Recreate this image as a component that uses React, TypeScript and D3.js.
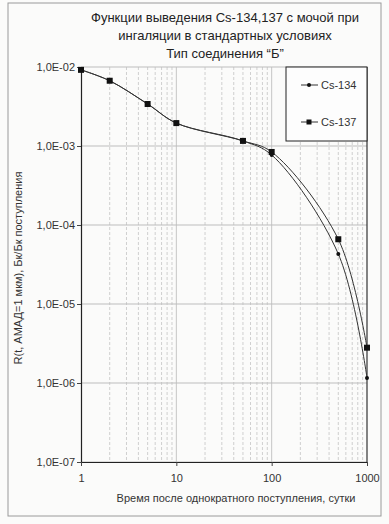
import React, { useEffect, useRef } from 'react';
import * as d3 from 'd3';

// Days after intake and excretion function values (Bq per Bq intake)
const days = [1, 2, 5, 10, 50, 100, 500, 1000];
const cs134 = [9.2e-3, 6.7e-3, 3.4e-3, 1.95e-3, 1.16e-3, 7.7e-4, 4.3e-5, 1.16e-6];
const cs137 = [9.2e-3, 6.7e-3, 3.4e-3, 1.95e-3, 1.16e-3, 8.4e-4, 6.6e-5, 2.8e-6];

const yTicks = [1e-7, 1e-6, 1e-5, 1e-4, 1e-3, 1e-2];
const xTicks = [1, 10, 100, 1000];

const titleLines = [
  'Функции выведения Cs-134,137 с мочой при',
  'ингаляции в стандартных условиях',
  'Тип соединения “Б”',
];
const seriesNames = ['Cs-134', 'Cs-137'];

const W = 389;
const H = 524;
const FONT = '"Liberation Sans", Arial, sans-serif';

const App: React.FC = () => {
  const svgRef = useRef<SVGSVGElement>(null);

  useEffect(() => {
    if (!svgRef.current) return;
    const svg = d3.select(svgRef.current);
    svg.selectAll('*').remove();

    const plot = { left: 81, right: 367, top: 67, bottom: 462 };

    const x = d3.scaleLog().domain([1, 1000]).range([plot.left, plot.right]);
    const y = d3.scaleLog().domain([1e-7, 1e-2]).range([plot.bottom, plot.top]);

    // page background + outer frame
    svg.append('rect').attr('width', W).attr('height', H).attr('fill', '#fbfbfa');
    svg.append('rect')
      .attr('x', 8).attr('y', 3).attr('width', 373).attr('height', 513)
      .attr('fill', 'none').attr('stroke', '#9a9a9a').attr('stroke-width', 1);

    // title
    svg.append('g')
      .attr('font-family', FONT).attr('font-size', 13).attr('fill', '#222')
      .attr('text-anchor', 'middle')
      .selectAll('text')
      .data(titleLines)
      .join('text')
      .attr('x', 225)
      .attr('y', (d, i) => 22 + i * 18)
      .text(d => d);

    // minor vertical grid
    const minor: number[] = [];
    [1, 10, 100].forEach(dec => {
      for (let k = 2; k <= 9; k++) minor.push(dec * k);
    });
    svg.append('g')
      .selectAll('line')
      .data(minor)
      .join('line')
      .attr('x1', d => x(d)).attr('x2', d => x(d))
      .attr('y1', plot.top).attr('y2', plot.bottom)
      .attr('stroke', '#c4c4c4').attr('stroke-width', 0.8)
      .attr('stroke-dasharray', '3,2');

    // major vertical grid
    svg.append('g')
      .selectAll('line')
      .data(xTicks.slice(1, 3))
      .join('line')
      .attr('x1', d => x(d)).attr('x2', d => x(d))
      .attr('y1', plot.top).attr('y2', plot.bottom)
      .attr('stroke', '#b8b8b8').attr('stroke-width', 0.8);

    // horizontal grid
    svg.append('g')
      .selectAll('line')
      .data(yTicks)
      .join('line')
      .attr('x1', plot.left).attr('x2', plot.right)
      .attr('y1', d => y(d)).attr('y2', d => y(d))
      .attr('stroke', '#bdbdbd').attr('stroke-width', 1);

    // right frame
    svg.append('line')
      .attr('x1', plot.right).attr('x2', plot.right)
      .attr('y1', plot.top).attr('y2', plot.bottom)
      .attr('stroke', '#333').attr('stroke-width', 1.2);

    // axes
    const fmt = (d: number) => {
      const e = Math.round(Math.log10(d));
      return `1,0E-${String(-e).padStart(2, '0')}`;
    };
    svg.append('g')
      .attr('transform', `translate(${plot.left},0)`)
      .call(d3.axisLeft(y).tickValues(yTicks).tickFormat(d => fmt(d as number)).tickSize(4).tickSizeOuter(0))
      .call(g => g.select('.domain').attr('stroke', '#222').attr('stroke-width', 1.2))
      .call(g => g.selectAll('.tick line').attr('stroke', '#444'))
      .call(g => g.selectAll('.tick text').attr('font-family', FONT).attr('font-size', 11).attr('fill', '#333').attr('x', -6));

    svg.append('g')
      .attr('transform', `translate(0,${plot.bottom})`)
      .call(d3.axisBottom(x).tickValues(xTicks).tickFormat(d => String(d)).tickSize(4).tickSizeOuter(0))
      .call(g => g.select('.domain').attr('stroke', '#222').attr('stroke-width', 1.2))
      .call(g => g.selectAll('.tick line').attr('stroke', '#444'))
      .call(g => g.selectAll('.tick text').attr('font-family', FONT).attr('font-size', 11).attr('fill', '#333').attr('y', 12));

    // axis titles
    svg.append('text')
      .attr('x', 236).attr('y', 502)
      .attr('text-anchor', 'middle')
      .attr('font-family', FONT).attr('font-size', 11).attr('fill', '#333')
      .text('Время после однократного поступления, сутки');

    svg.append('text')
      .attr('transform', `translate(22,268) rotate(-90)`)
      .attr('text-anchor', 'middle')
      .attr('font-family', FONT).attr('font-size', 11).attr('fill', '#333')
      .text('R(t, АМАД=1 мкм), Бк/Бк поступления');

    // curves
    const line = d3.line<[number, number]>()
      .x(d => x(d[0]))
      .y(d => y(d[1]))
      .curve(d3.curveCatmullRom.alpha(0.5));

    const s134 = days.map((d, i) => [d, cs134[i]] as [number, number]);
    const s137 = days.map((d, i) => [d, cs137[i]] as [number, number]);

    [s137, s134].forEach(s => {
      svg.append('path')
        .datum(s)
        .attr('fill', 'none')
        .attr('stroke', '#333')
        .attr('stroke-width', 1)
        .attr('d', line);
    });

    // markers
    svg.append('g')
      .attr('fill', '#111')
      .selectAll('rect')
      .data(s137)
      .join('rect')
      .attr('x', d => x(d[0]) - 3)
      .attr('y', d => y(d[1]) - 3)
      .attr('width', 6).attr('height', 6);

    svg.append('g')
      .attr('fill', '#111')
      .selectAll('circle')
      .data(s134)
      .join('circle')
      .attr('cx', d => x(d[0]))
      .attr('cy', d => y(d[1]))
      .attr('r', 2);

    // legend
    const lg = svg.append('g');
    lg.append('rect')
      .attr('x', 286).attr('y', plot.top).attr('width', plot.right - 286).attr('height', 74)
      .attr('fill', '#fdfdfd').attr('stroke', '#222').attr('stroke-width', 1);
    const items = lg.selectAll('g.item')
      .data(seriesNames)
      .join('g')
      .attr('class', 'item')
      .attr('transform', (d, i) => `translate(0,${85 + i * 37})`);
    items.append('line')
      .attr('x1', 301).attr('x2', 318).attr('y1', 0).attr('y2', 0)
      .attr('stroke', '#333').attr('stroke-width', 1);
    items.each(function (d, i) {
      const g = d3.select(this);
      if (i === 0) {
        g.append('circle').attr('cx', 309).attr('cy', 0).attr('r', 2).attr('fill', '#111');
      } else {
        g.append('rect').attr('x', 306.5).attr('y', -2.5).attr('width', 5).attr('height', 5).attr('fill', '#111');
      }
    });
    items.append('text')
      .attr('x', 321).attr('y', 0).attr('dy', '0.35em')
      .attr('font-family', FONT).attr('font-size', 11).attr('fill', '#333')
      .text(d => d);
  }, []);

  return (
    <svg
      ref={svgRef}
      width={W}
      height={H}
      viewBox={`0 0 ${W} ${H}`}
      style={{ position: 'absolute', left: 0, top: 0, display: 'block' }}
    />
  );
};

export default App;
